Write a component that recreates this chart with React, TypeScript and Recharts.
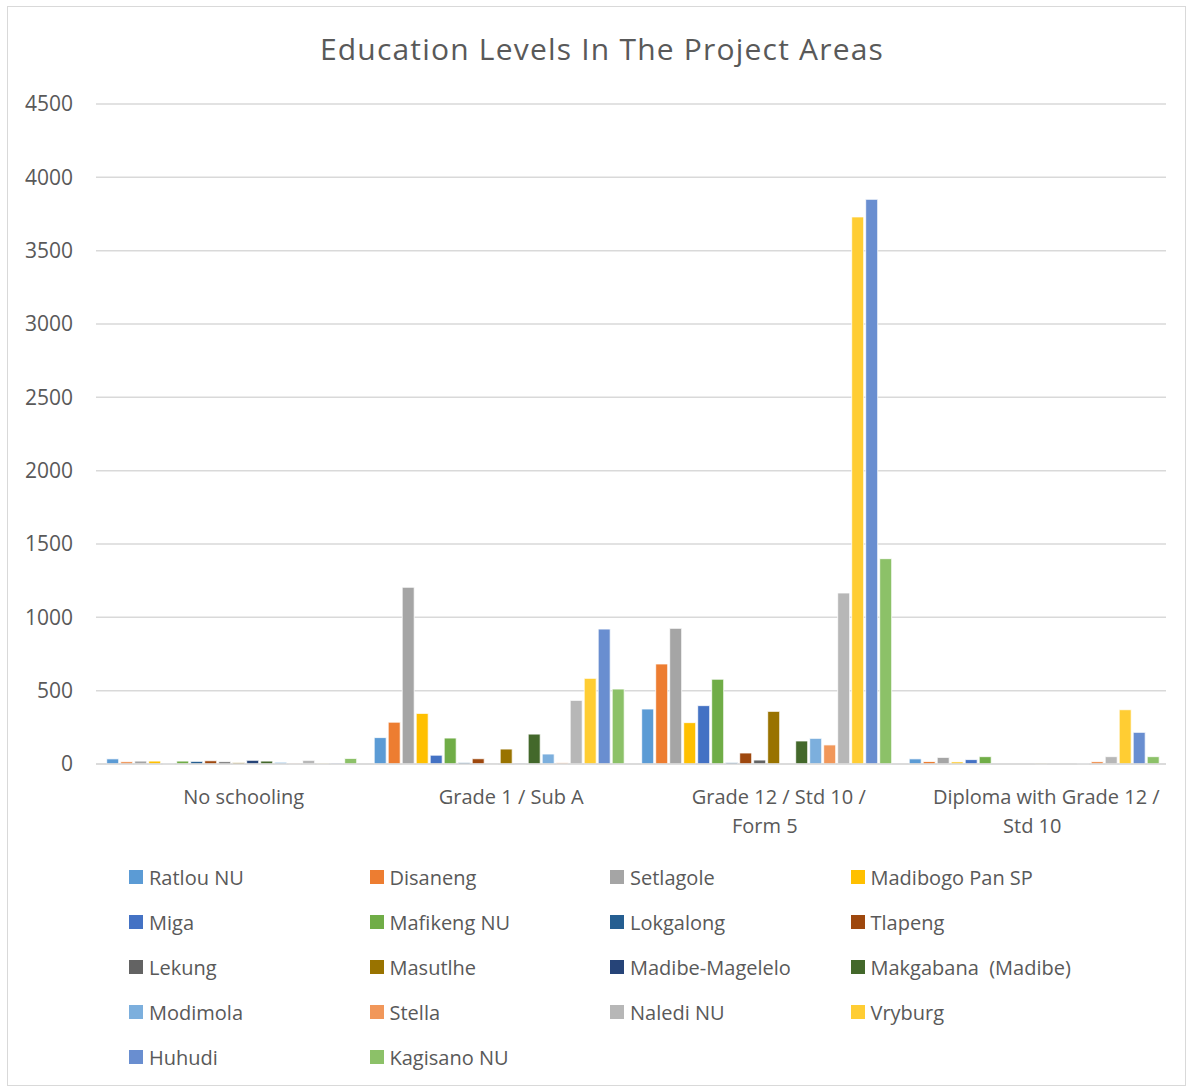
import React from 'react';
import { BarChart, Bar, XAxis, YAxis, CartesianGrid } from 'recharts';

const categories = ['No schooling', 'Grade 1 / Sub A', 'Grade 12 / Std 10 / Form 5', 'Diploma with Grade 12 / Std 10'];
const categoryLines: string[][] = [
  ['No schooling'],
  ['Grade 1 / Sub A'],
  ['Grade 12 / Std 10 /', 'Form 5'],
  ['Diploma with Grade 12 /', 'Std 10'],
];
const yTicks = [0, 500, 1000, 1500, 2000, 2500, 3000, 3500, 4000, 4500];

const ratlouNU = [35, 180, 375, 35];
const disaneng = [15, 285, 682, 17];
const setlagole = [20, 1205, 925, 45];
const madibogoPanSP = [20, 345, 282, 14];
const miga = [2, 60, 398, 30];
const mafikengNU = [20, 177, 578, 50];
const lokgalong = [18, 10, 10, 0];
const tlapeng = [22, 36, 75, 0];
const lekung = [15, 5, 27, 0];
const masutlhe = [10, 102, 359, 5];
const madibeMagelelo = [25, 5, 0, 0];
const makgabana = [20, 204, 157, 0];
const modimola = [12, 68, 175, 3];
const stella = [5, 8, 130, 17];
const nalediNU = [25, 434, 1166, 50];
const vryburg = [5, 584, 3730, 370];
const huhudi = [6, 920, 3850, 216];
const kagisanoNU = [38, 511, 1400, 50];

const seriesNames = [
  'Ratlou NU', 'Disaneng', 'Setlagole', 'Madibogo Pan SP', 'Miga', 'Mafikeng NU',
  'Lokgalong', 'Tlapeng', 'Lekung', 'Masutlhe', 'Madibe-Magelelo', 'Makgabana  (Madibe)',
  'Modimola', 'Stella', 'Naledi NU', 'Vryburg', 'Huhudi', 'Kagisano NU',
];
const seriesValues = [
  ratlouNU, disaneng, setlagole, madibogoPanSP, miga, mafikengNU,
  lokgalong, tlapeng, lekung, masutlhe, madibeMagelelo, makgabana,
  modimola, stella, nalediNU, vryburg, huhudi, kagisanoNU,
];
const seriesColors = [
  '#5B9BD5', '#ED7D31', '#A5A5A5', '#FFC000', '#4472C4', '#70AD47',
  '#255E91', '#9E480E', '#636363', '#997300', '#264478', '#43682B',
  '#7CAFDD', '#F1975A', '#B7B7B7', '#FFCD33', '#698ED0', '#8CC168',
];

const data = categories.map((c, i) => {
  const row: Record<string, any> = { category: c, idx: i };
  seriesNames.forEach((n, s) => {
    row['s' + s] = seriesValues[s][i];
  });
  return row;
});

const FONT = '"Open Sans", sans-serif';
const TEXT_COLOR = '#595959';

const CategoryTick = (props: any) => {
  const { x, y, payload } = props;
  const lines = categoryLines[payload.index] || [String(payload.value)];
  return (
    <g>
      {lines.map((l, i) => (
        <text
          key={i}
          x={x + (i === 0 ? 14 : 0)}
          y={y + 38 + i * 29}
          textAnchor="middle"
          fill={TEXT_COLOR}
          fontSize={20}
          fontFamily={FONT}
        >
          {l}
        </text>
      ))}
    </g>
  );
};

export default function App() {
  return (
    <div style={{ position: 'absolute', left: 0, top: 0, width: 1192, height: 1089, background: '#fff', fontFamily: FONT }}>
      <div style={{ position: 'absolute', left: 7, top: 6, width: 1177, height: 1078, border: '1px solid #d9d9d9' }} />
      <div style={{ position: 'absolute', left: 0, top: 29, width: 1204, textAlign: 'center', fontSize: 30, letterSpacing: 1.2, color: TEXT_COLOR, fontFamily: FONT, lineHeight: '40px' }}>
        Education Levels In The Project Areas
      </div>
      <div style={{ position: 'absolute', left: 0, top: 0 }}>
        <BarChart
          width={1192}
          height={1089}
          data={data}
          margin={{ top: 104, right: 26, bottom: 225, left: 0 }}
          barCategoryGap="4%"
          barGap={2}
        >
          <CartesianGrid vertical={false} stroke="#d9d9d9" strokeWidth={1.5} />
          <XAxis
            dataKey="category"
            axisLine={{ stroke: '#d9d9d9', strokeWidth: 1.5 }}
            tickLine={false}
            tickSize={0}
            height={100}
            interval={0}
            tick={<CategoryTick />}
          />
          <YAxis
            width={96}
            domain={[0, 4500]}
            ticks={yTicks}
            axisLine={false}
            tickLine={false}
            tickSize={0}
            tickMargin={23}
            tick={{ fill: TEXT_COLOR, fontSize: 21, fontFamily: FONT }}
          />
          {seriesNames.map((n, s) => (
            <Bar
              key={n}
              dataKey={'s' + s}
              name={n}
              fill={seriesColors[s]}
              stroke="#ffffff"
              strokeWidth={0.8}
              isAnimationActive={false}
            />
          ))}
        </BarChart>
      </div>
      <div style={{ position: 'absolute', left: 129, top: 859, width: 1000 }}>
        {seriesNames.map((n, s) => {
          const col = s % 4;
          const row = Math.floor(s / 4);
          return (
            <div
              key={n}
              style={{ position: 'absolute', left: col * 240.5, top: row * 45, height: 36, display: 'flex', alignItems: 'center', whiteSpace: 'pre' }}
            >
              <span style={{ display: 'inline-block', width: 14, height: 14, background: seriesColors[s], marginRight: 6 }} />
              <span style={{ fontSize: 20, color: TEXT_COLOR, fontFamily: FONT }}>{n}</span>
            </div>
          );
        })}
      </div>
    </div>
  );
}
